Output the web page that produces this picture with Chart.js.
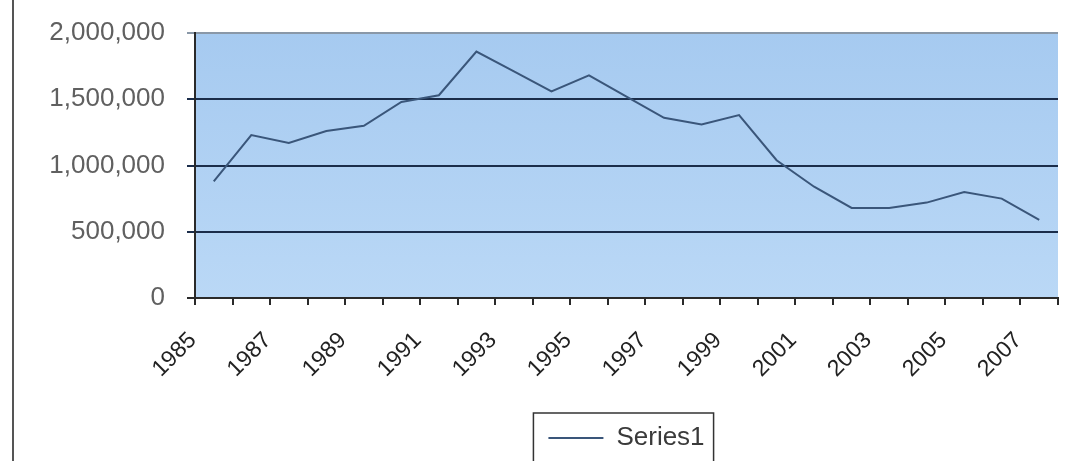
<!DOCTYPE html>
<html>
<head>
<meta charset="utf-8">
<script src="https://cdn.jsdelivr.net/npm/chart.js@4"></script>
<style>
  html, body { margin: 0; padding: 0; background: #ffffff; }
  #wrap { position: relative; width: 1073px; height: 461px; }
</style>
</head>
<body>
<div id="wrap"><canvas id="chart"></canvas></div>
<script>
// Yearly series, 1985-2007
const years = ['1985','1986','1987','1988','1989','1990','1991','1992','1993','1994','1995','1996',
               '1997','1998','1999','2000','2001','2002','2003','2004','2005','2006','2007'];
const series1 = [880000, 1230000, 1170000, 1260000, 1300000, 1480000, 1530000, 1860000,
                 1710000, 1560000, 1680000, 1520000, 1360000, 1310000, 1380000, 1040000,
                 840000, 680000, 680000, 720000, 800000, 750000, 590000];
const seriesName = 'Series1';
const yTicks = [0, 500000, 1000000, 1500000, 2000000];

const FONT = '"Liberation Sans", Arial, sans-serif';

// Light blue plot-area fill
const plotBackground = {
  id: 'plotBackground',
  beforeDraw(chart) {
    const { ctx, chartArea: a } = chart;
    const g = ctx.createLinearGradient(0, a.top, 0, a.bottom);
    g.addColorStop(0, 'rgb(166,202,240)');
    g.addColorStop(1, 'rgb(186,216,246)');
    ctx.save();
    ctx.fillStyle = g;
    ctx.fillRect(a.left, a.top, a.right - a.left, a.bottom - a.top);
    ctx.restore();
  }
};

// Outer frame line on the left and a border around the legend
const frames = {
  id: 'frames',
  afterDraw(chart) {
    const { ctx } = chart;
    ctx.save();
    ctx.fillStyle = '#555';
    ctx.fillRect(12, 0, 2, chart.height);
    const boxes = chart.legend && chart.legend.legendHitBoxes;
    if (boxes && boxes.length) {
      const b = boxes[0];
      ctx.strokeStyle = '#333';
      ctx.lineWidth = 1.5;
      ctx.strokeRect(b.left - 15, b.top - 12, b.width + 24, chart.height - (b.top - 12) + 4);
    }
    ctx.restore();
  }
};

new Chart(document.getElementById('chart'), {
  type: 'line',
  data: {
    labels: years,
    datasets: [{
      label: seriesName,
      data: series1,
      borderColor: 'rgb(58,86,122)',
      backgroundColor: 'rgb(58,86,122)',
      borderWidth: 2,
      pointRadius: 0,
      tension: 0,
      fill: false
    }]
  },
  options: {
    responsive: true,
    maintainAspectRatio: false,
    animation: false,
    layout: { padding: { left: 0, right: 15, top: 33, bottom: 0 } },
    plugins: {
      tooltip: { enabled: false },
      legend: {
        position: 'bottom',
        fullSize: false,
        labels: {
          usePointStyle: true,
          pointStyle: 'line',
          pointStyleWidth: 55,
          boxHeight: 2,
          padding: 10,
          color: '#3a3a3a',
          font: { family: FONT, size: 26 }
        }
      }
    },
    scales: {
      x: {
        type: 'category',
        offset: true,
        afterFit(scale) {
          scale.height = 117;
          scale.paddingLeft = 0;
          scale.paddingRight = 0;
        },
        border: { display: true, color: '#2a2a2a', width: 2 },
        grid: {
          offset: true,
          drawOnChartArea: false,
          drawTicks: true,
          tickLength: 7,
          color: '#2a2a2a',
          lineWidth: 2
        },
        ticks: {
          autoSkip: false,
          maxRotation: 45,
          minRotation: 45,
          labelOffset: -21,
          padding: 22,
          color: '#222',
          font: { family: FONT, size: 23 },
          callback(value, index) { return index % 2 === 0 ? years[index] : ''; }
        }
      },
      y: {
        min: 0,
        max: 2000000,
        afterFit(scale) {
          scale.width = 195;
          scale.paddingTop = 0;
          scale.paddingBottom = 0;
        },
        afterBuildTicks(scale) { scale.ticks = yTicks.map(v => ({ value: v })); },
        border: { display: true, color: '#2a2a2a', width: 2 },
        grid: {
          drawTicks: true,
          tickLength: 8,
          lineWidth: 2,
          color(ctx) {
            const v = ctx.tick && ctx.tick.value;
            if (v === 2000000) return '#8a98a8';
            if (v === 0) return '#2a2a2a';
            return '#1b2d4a';
          }
        },
        ticks: {
          padding: 22,
          color: '#606060',
          font: { family: FONT, size: 26 },
          callback(value) { return Number(value).toLocaleString('en-US'); }
        }
      }
    }
  },
  plugins: [plotBackground, frames]
});
</script>
</body>
</html>
